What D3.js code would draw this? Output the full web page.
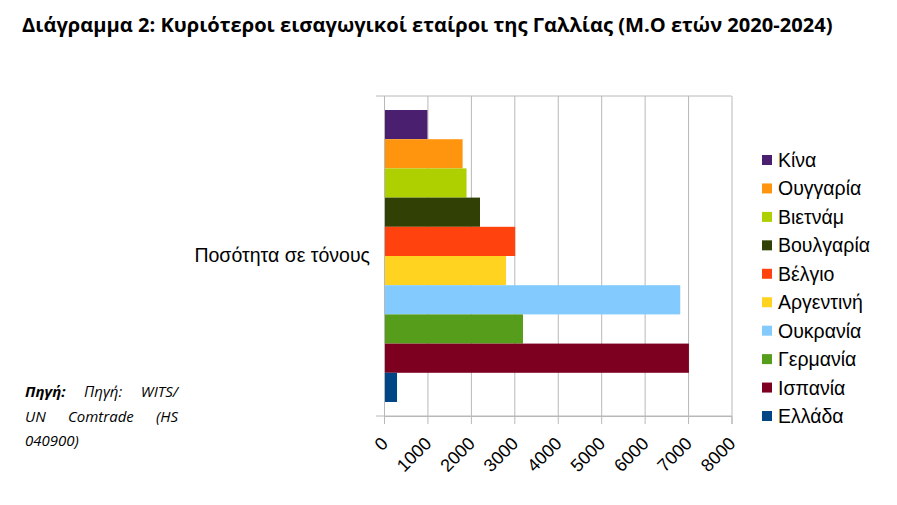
<!DOCTYPE html>
<html>
<head>
<meta charset="utf-8">
<script src="https://cdn.jsdelivr.net/npm/d3@7"></script>
<style>
  body { margin: 0; background: #fff; }
  svg { display: block; }
</style>
</head>
<body>
<svg></svg>
<script>
// data
var category = "Ποσότητα σε τόνους";
var countries = ["Κίνα", "Ουγγαρία", "Βιετνάμ", "Βουλγαρία", "Βέλγιο",
                 "Αργεντινή", "Ουκρανία", "Γερμανία", "Ισπανία", "Ελλάδα"];
var tonnes = [1000, 1810, 1900, 2210, 3020, 2810, 6820, 3200, 7020, 300];
var colors = ["#4b1f6f", "#ff950e", "#aecf00", "#314004", "#ff420e",
              "#ffd320", "#83caff", "#579d1c", "#7e0021", "#004586"];
var xTicks = [0, 1000, 2000, 3000, 4000, 5000, 6000, 7000, 8000];
var titleText = "Διάγραμμα 2: Κυριότεροι εισαγωγικοί εταίροι της Γαλλίας (Μ.Ο ετών 2020-2024)";
var sourceLines = [["Πηγή:", "Πηγή:", "WITS/"], ["UN", "Comtrade", "(HS"], ["040900)"]];

var svgWidth = 897, svgHeight = 505;
var margin = { top: 96, left: 384 };
var width = 347.5, height = 320;
var gridColor = "#b8b8b8";
var labelFont = "'Liberation Sans', Arial, sans-serif";

var svg = d3.select("svg")
    .attr("width", svgWidth)
    .attr("height", svgHeight);

// title, fitted to the width it has in the picture
var title = svg.append("text")
    .attr("x", 22)
    .attr("y", 32)
    .style("font-family", "'Open Sans', sans-serif")
    .style("font-weight", "bold")
    .style("font-size", "20px")
    .text(titleText);
var tw = title.node().getComputedTextLength();
title.style("font-size", (20 * 811 / tw) + "px");

// scales
var x = d3.scaleLinear()
    .domain([0, 8000])
    .range([0, width]);

var y0 = d3.scaleBand()
    .domain([category])
    .range([0, height])
    .paddingOuter(0.048);

var y1 = d3.scaleBand()
    .domain(countries)
    .range([0, y0.bandwidth()]);

var g = svg.append("g")
    .attr("transform", "translate(" + margin.left + "," + margin.top + ")");

// vertical gridlines
g.append("g")
    .call(d3.axisBottom(x).tickValues(xTicks).tickSize(height).tickFormat(""))
    .call(s => s.select(".domain").remove())
    .call(s => s.selectAll("line").attr("stroke", gridColor));

// horizontal lines at the category edges (with small ticks to the left)
g.append("g")
    .selectAll("line")
    .data(y0.range())
    .enter().append("line")
    .attr("x1", -8)
    .attr("x2", width)
    .attr("y1", d => d)
    .attr("y2", d => d)
    .attr("stroke", gridColor);

// bars
g.selectAll(".bar")
    .data(countries)
    .enter().append("rect")
    .attr("class", "bar")
    .attr("x", x(0))
    .attr("y", d => y0(category) + y1(d))
    .attr("width", (d, i) => x(tonnes[i]) - x(0))
    .attr("height", y1.bandwidth())
    .attr("fill", (d, i) => colors[i]);

// x axis
var xAxis = g.append("g")
    .attr("transform", "translate(0," + height + ")")
    .call(d3.axisBottom(x).tickValues(xTicks).tickSize(8).tickFormat(d3.format("d")));
xAxis.selectAll("path, line").attr("stroke", gridColor);
xAxis.selectAll("text")
    .attr("y", 0)
    .attr("dy", "0.36em")
    .attr("transform", "translate(0,24) rotate(-45)")
    .style("text-anchor", "end")
    .style("font-family", labelFont)
    .style("font-size", "18px")
    .attr("fill", "#000");

// y axis (left line + category label)
var yAxis = g.append("g")
    .call(d3.axisLeft(y0).tickSize(0).tickPadding(14));
yAxis.select(".domain").attr("stroke", gridColor);
yAxis.selectAll("text")
    .style("font-family", labelFont)
    .style("font-size", "19.5px")
    .attr("fill", "#000");

// legend
var ly = d3.scalePoint()
    .domain(countries)
    .range([160, 416]);

var legend = svg.append("g").selectAll("g")
    .data(countries)
    .enter().append("g")
    .attr("transform", d => "translate(762," + ly(d) + ")");

legend.append("rect")
    .attr("x", 0)
    .attr("y", -5)
    .attr("width", 10)
    .attr("height", 10)
    .attr("fill", (d, i) => colors[i]);

legend.append("text")
    .attr("x", 16)
    .attr("dy", "0.36em")
    .style("font-family", labelFont)
    .style("font-size", "19.5px")
    .text(d => d);

// source note, justified between two edges
var srcLeft = 25, srcRight = 178;
sourceLines.forEach(function(words, li) {
    var line = svg.append("text")
        .attr("y", 397 + li * 24.5)
        .style("font-family", "'Open Sans', sans-serif")
        .style("font-style", "italic")
        .style("font-size", "15px")
        .attr("fill", "#000");
    var spans = words.map(function(w, wi) {
        return line.append("tspan")
            .style("font-weight", (li === 0 && wi === 0) ? "bold" : "normal")
            .text(w);
    });
    var widths = spans.map(s => s.node().getComputedTextLength());
    var last = li === sourceLines.length - 1;
    var gap = last || words.length < 2 ? 4
        : (srcRight - srcLeft - d3.sum(widths)) / (words.length - 1);
    var cx = srcLeft;
    spans.forEach(function(s, i) {
        s.attr("x", cx);
        cx += widths[i] + gap;
    });
});
</script>
</body>
</html>
